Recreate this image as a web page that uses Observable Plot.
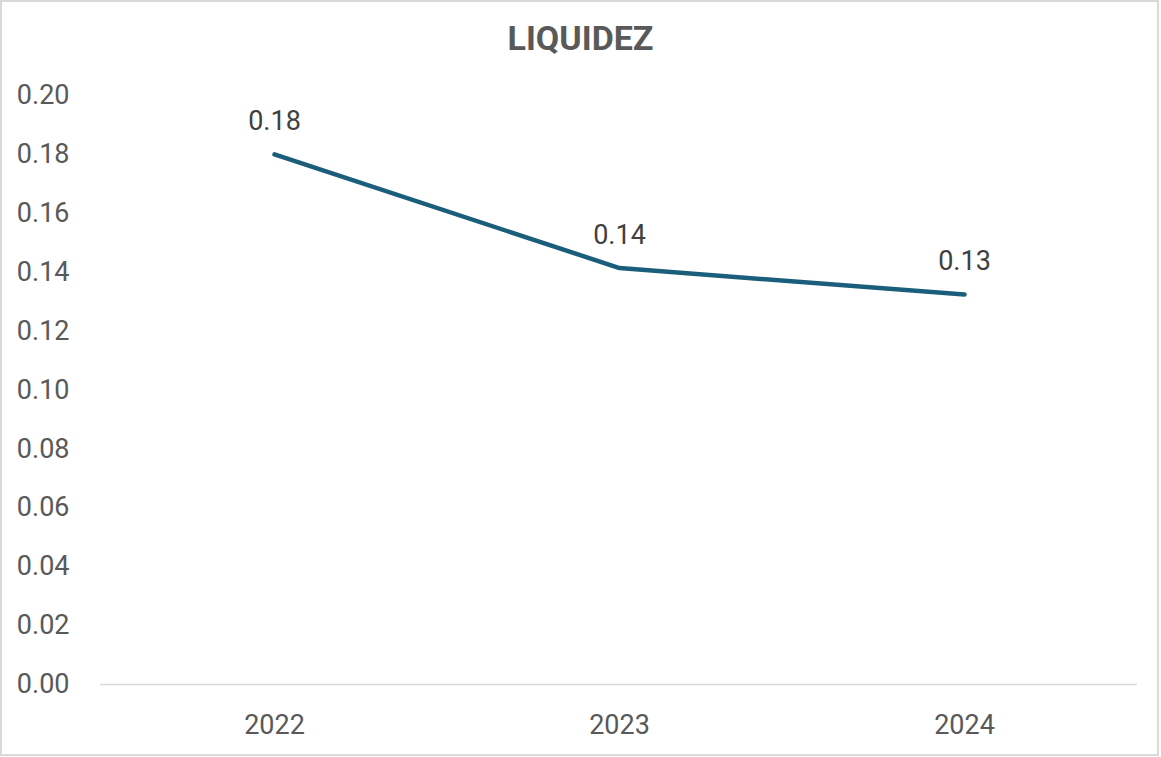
<!DOCTYPE html>
<html>
<head>
<meta charset="utf-8">
<script src="https://cdn.jsdelivr.net/npm/d3@7"></script>
<script src="https://cdn.jsdelivr.net/npm/@observablehq/plot@0.6"></script>
<style>
  html, body { margin: 0; padding: 0; background: #fff; }
  #wrap { position: relative; width: 1161px; height: 757px; overflow: hidden; background: #fff; }
  #wrap svg { position: absolute; left: 0; top: 0; }
  #title { position: absolute; left: 0; width: 1161px; top: 16px; text-align: center;
           font-family: Roboto, "Liberation Sans", sans-serif; font-weight: 700; font-size: 34px;
           color: #595959; line-height: 44px; }
  #frame { position: absolute; left: 0; top: 0; width: 1159px; height: 756px; box-sizing: border-box;
           border: 2px solid #d9d9d9; pointer-events: none; }
</style>
</head>
<body>
<div id="wrap">
  <div id="title">LIQUIDEZ</div>
  <div id="frame"></div>
</div>
<script>
const years = ["2022", "2023", "2024"];
const values = [0.18, 0.1414, 0.1324];
const yTicks = [0, 0.02, 0.04, 0.06, 0.08, 0.10, 0.12, 0.14, 0.16, 0.18, 0.20];

const data = years.map((year, i) => ({year, value: values[i]}));
const fmt = d3.format(".2f");
const font = "Roboto, 'Liberation Sans', sans-serif";

const chart = Plot.plot({
  width: 1161,
  height: 757,
  marginTop: 95,
  marginBottom: 73,
  marginLeft: 100,
  marginRight: 24,
  style: {fontFamily: font, background: "transparent", overflow: "visible"},
  x: {type: "point", domain: years, padding: 0.5, axis: null},
  y: {domain: [0, 0.2], axis: null},
  marks: [
    Plot.ruleY([0], {stroke: "#d9d9d9", strokeWidth: 1.5}),
    Plot.axisY({ticks: yTicks, tickFormat: fmt, tickSize: 0, tickPadding: 31, fontSize: 27, fill: "#595959", textAnchor: "end", lineAnchor: "middle", label: null}),
    Plot.axisX({tickSize: 0, tickPadding: 30, fontSize: 27, fill: "#595959", label: null}),
    Plot.lineY(data, {x: "year", y: "value", stroke: "#1B5E7C", strokeWidth: 4.5, strokeLinecap: "round", strokeLinejoin: "round"}),
    Plot.text(data, {x: "year", y: "value", text: d => fmt(d.value), dy: -33, fontSize: 27, fill: "#404040", lineAnchor: "middle"})
  ]
});
document.getElementById("wrap").insertBefore(chart, document.getElementById("title"));
</script>
</body>
</html>
